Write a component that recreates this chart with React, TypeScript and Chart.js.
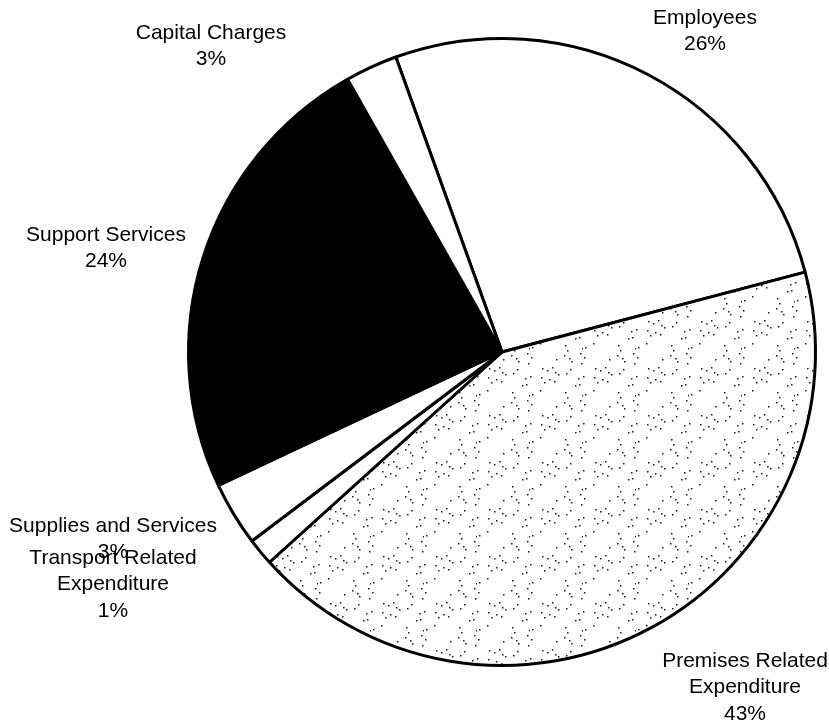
import React, { useEffect, useRef } from "react";
import { Chart, registerables } from "chart.js";

Chart.register(...registerables);

const categories = [
  "Employees",
  "Premises Related Expenditure",
  "Transport Related Expenditure",
  "Supplies and Services",
  "Support Services",
  "Capital Charges",
];
const shareValues = [26.4, 42.4, 1.4, 3.3, 23.8, 2.7];
const labelLines = [
  ["Employees", "26%"],
  ["Premises Related", "Expenditure", "43%"],
  ["Transport Related", "Expenditure", "1%"],
  ["Supplies and Services", "3%"],
  ["Support Services", "24%"],
  ["Capital Charges", "3%"],
];
// label anchor (center of first line) in canvas pixels
const labelAnchors = [
  [705, 18],
  [745, 661],
  [113, 558],
  [113, 526],
  [106, 235],
  [211, 33],
];
const LINE_H = 26.5;

function makeStipple(ctx: CanvasRenderingContext2D) {
  const c = document.createElement("canvas");
  c.width = 53;
  c.height = 47;
  const g = c.getContext("2d")!;
  g.fillStyle = "#ffffff";
  g.fillRect(0, 0, c.width, c.height);
  g.fillStyle = "#1a1a1a";
  for (let y = 0; y < c.height; y++) {
    for (let x = 0; x < c.width; x++) {
      if ((x * 17 + y * 29 + x * y * 3) % 83 === 0) g.fillRect(x, y, 1.5, 1.5);
    }
  }
  return ctx.createPattern(c, "repeat") as CanvasPattern;
}

const labelPlugin = {
  id: "outerLabels",
  afterDraw(chart: any) {
    const ctx = chart.ctx as CanvasRenderingContext2D;
    ctx.save();
    ctx.font = '21px "Liberation Sans", Arial, sans-serif';
    ctx.fillStyle = "#000";
    ctx.textAlign = "center";
    ctx.textBaseline = "middle";
    const order = [0, 1, 4, 5, 3, 2];
    order.forEach((i) => {
      const [x, y] = labelAnchors[i];
      labelLines[i].forEach((t, k) => ctx.fillText(t, x, y + k * LINE_H));
    });
    ctx.restore();
  },
};

export default function App() {
  const ref = useRef<HTMLCanvasElement>(null);
  useEffect(() => {
    const canvas = ref.current!;
    const ctx = canvas.getContext("2d")!;
    const stipple = makeStipple(ctx);
    const colors = ["#ffffff", stipple, "#ffffff", "#ffffff", "#000000", "#ffffff"];
    const chart = new Chart(canvas, {
      type: "pie",
      data: {
        labels: categories,
        datasets: [
          {
            data: shareValues,
            backgroundColor: colors as any,
            borderColor: "#000000",
            borderWidth: 3,
          },
        ],
      },
      options: {
        animation: false,
        responsive: false,
        rotation: -19.8,
        layout: { padding: { left: 187, right: 12, top: 37, bottom: 57 } },
        plugins: {
          legend: { display: false },
          tooltip: { enabled: false },
        },
      },
      plugins: [labelPlugin],
    });
    return () => chart.destroy();
  }, []);
  return (
    <div style={{ position: "fixed", left: 0, top: 0, width: 829, height: 724, background: "#fff" }}>
      <canvas ref={ref} width={829} height={724} style={{ display: "block" }} />
    </div>
  );
}
